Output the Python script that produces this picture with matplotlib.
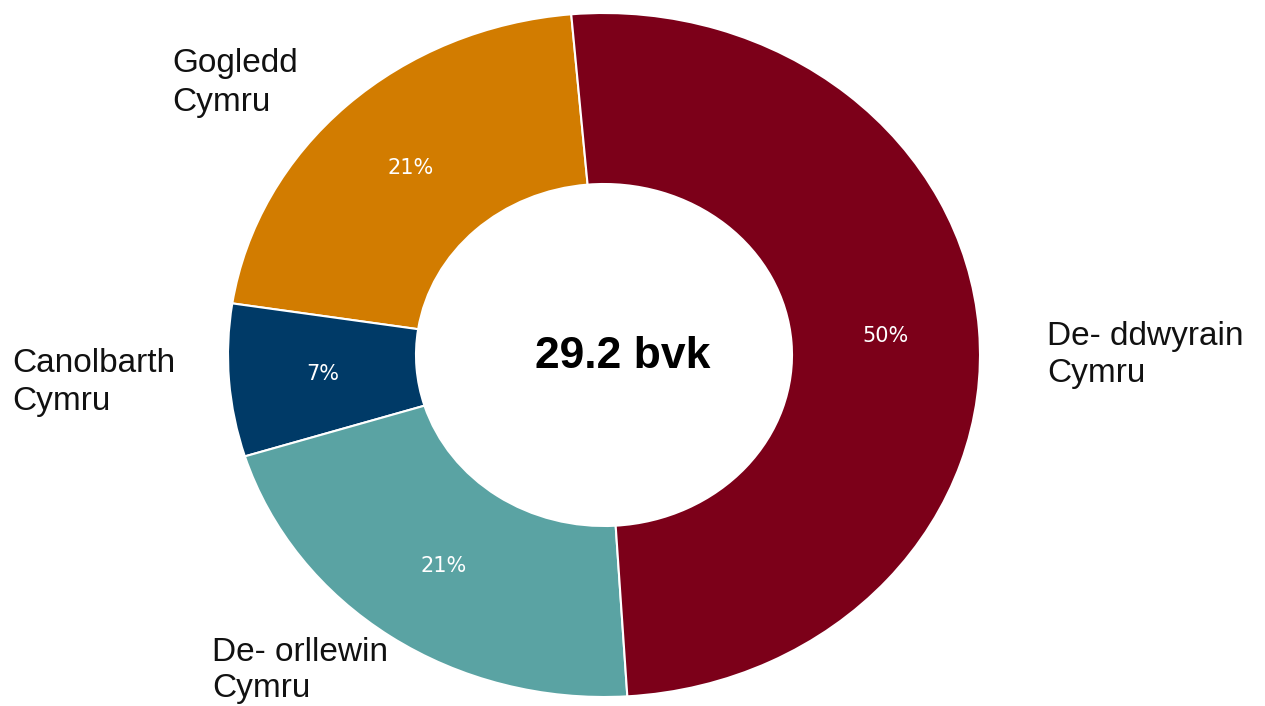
import matplotlib.pyplot as plt

# share of total (counter-clockwise from the top)
regions = ['Gogledd\nCymru', 'Canolbarth\nCymru', 'De- orllewin\nCymru', 'De- ddwyrain\nCymru']
shares = [21.2, 7.2, 21.2, 50.4]
colours = ['#D27C00', '#003A67', '#5AA3A3', '#7C0019']
total_label = '29.2 bvk'

W, H = 1265, 706
fig = plt.figure(figsize=(W / 100, H / 100), dpi=100)

# the ring in the original is slightly wider than tall
ax = fig.add_axes([228 / W, 1 - 697 / H, 752 / W, 684 / H])
wedges, texts, pcts = ax.pie(
    shares, colors=colours, startangle=95, counterclock=True,
    radius=1, autopct='%.0f%%', pctdistance=0.75,
    wedgeprops=dict(width=0.5, edgecolor='white', linewidth=1.5),
    textprops=dict(color='white', fontsize=15, family='DejaVu Sans'))
ax.set_aspect('auto')
ax.set_xlim(-1, 1)
ax.set_ylim(-1, 1)
ax.axis('off')

# category labels outside the ring (pixel positions of the baselines)
label_pos = {
    'Gogledd\nCymru': (172, 72, 111),
    'Canolbarth\nCymru': (12, 372, 410),
    'De- orllewin\nCymru': (212, 661, 697),
    'De- ddwyrain\nCymru': (1047, 345, 382),
}
for name in regions:
    x, y1, y2 = label_pos[name]
    first, second = name.split('\n')
    for line, y in ((first, y1), (second, y2)):
        fig.text(x / W, 1 - y / H, line, ha='left', va='baseline',
                 fontsize=24, family='Liberation Sans', color='#111111')

fig.text(623 / W, 1 - 356 / H, total_label, ha='center', va='center',
         fontsize=32, fontweight='bold', family='Liberation Sans')

fig.savefig('out.png', dpi=100)
